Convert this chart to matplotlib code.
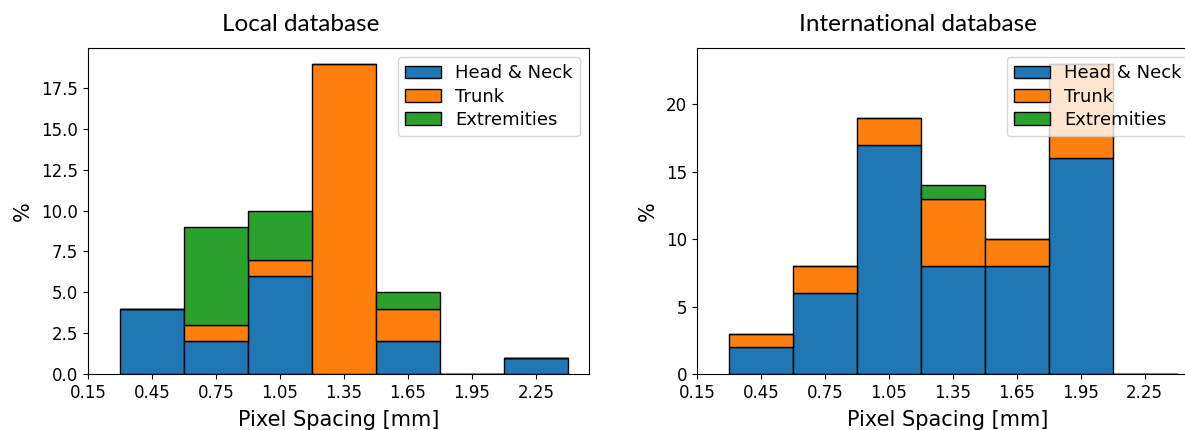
import numpy as np
import matplotlib.pyplot as plt

# Pixel spacing bins (0.3 mm wide, centres at 0.45 ... 2.25)
bin_centres = [0.45, 0.75, 1.05, 1.35, 1.65, 1.95, 2.25]
tick_values = [0.15, 0.45, 0.75, 1.05, 1.35, 1.65, 1.95, 2.25]
labels = ["Head & Neck", "Trunk", "Extremities"]
colors = ["#1f77b4", "#ff7f0e", "#2ca02c"]

# Local database, % of cases per body region
local_head = [4, 2, 6, 0, 2, 0, 1]
local_trunk = [0, 1, 1, 19, 2, 0, 0]
local_extr = [0, 6, 3, 0, 1, 0, 0]

# International database
intl_head = [2, 6, 17, 8, 8, 16, 0]
intl_trunk = [1, 2, 2, 5, 2, 7, 0]
intl_extr = [0, 0, 0, 1, 0, 0, 0]

fig = plt.figure(figsize=(11.85, 4.30), dpi=100)
ax1 = fig.add_axes([0.0743, 0.1302, 0.4228, 0.7581])
ax2 = fig.add_axes([0.5882, 0.1302, 0.4228, 0.7581])


def stacked(ax, series):
    bottom = np.zeros(len(bin_centres))
    for vals, lab, col in zip(series, labels, colors):
        ax.bar(bin_centres, vals, width=0.3, bottom=bottom, color=col,
               edgecolor="black", linewidth=1.0, label=lab)
        bottom += np.array(vals)
    ax.set_xlim(0.15, 2.5)
    ax.set_ylim(0, bottom.max() * 1.05)
    ax.set_xticks(tick_values)
    ax.set_xticklabels([f"{t:.2f}" for t in tick_values])
    ax.tick_params(labelsize=12)
    ax.set_xlabel("Pixel Spacing [mm]", fontsize=15, labelpad=6)
    ax.set_ylabel("%", fontsize=15, labelpad=6)
    ax.legend(loc="upper right", fontsize=13, labelspacing=0.3)


stacked(ax1, [local_head, local_trunk, local_extr])
stacked(ax2, [intl_head, intl_trunk, intl_extr])

fig.text(0.254, 0.942, "Local database", ha="center", va="center",
         fontsize=17.5, family="Lato")
fig.text(0.7747, 0.942, "International database", ha="center", va="center",
         fontsize=17.5, family="Lato")

fig.savefig("out.png", dpi=100)
